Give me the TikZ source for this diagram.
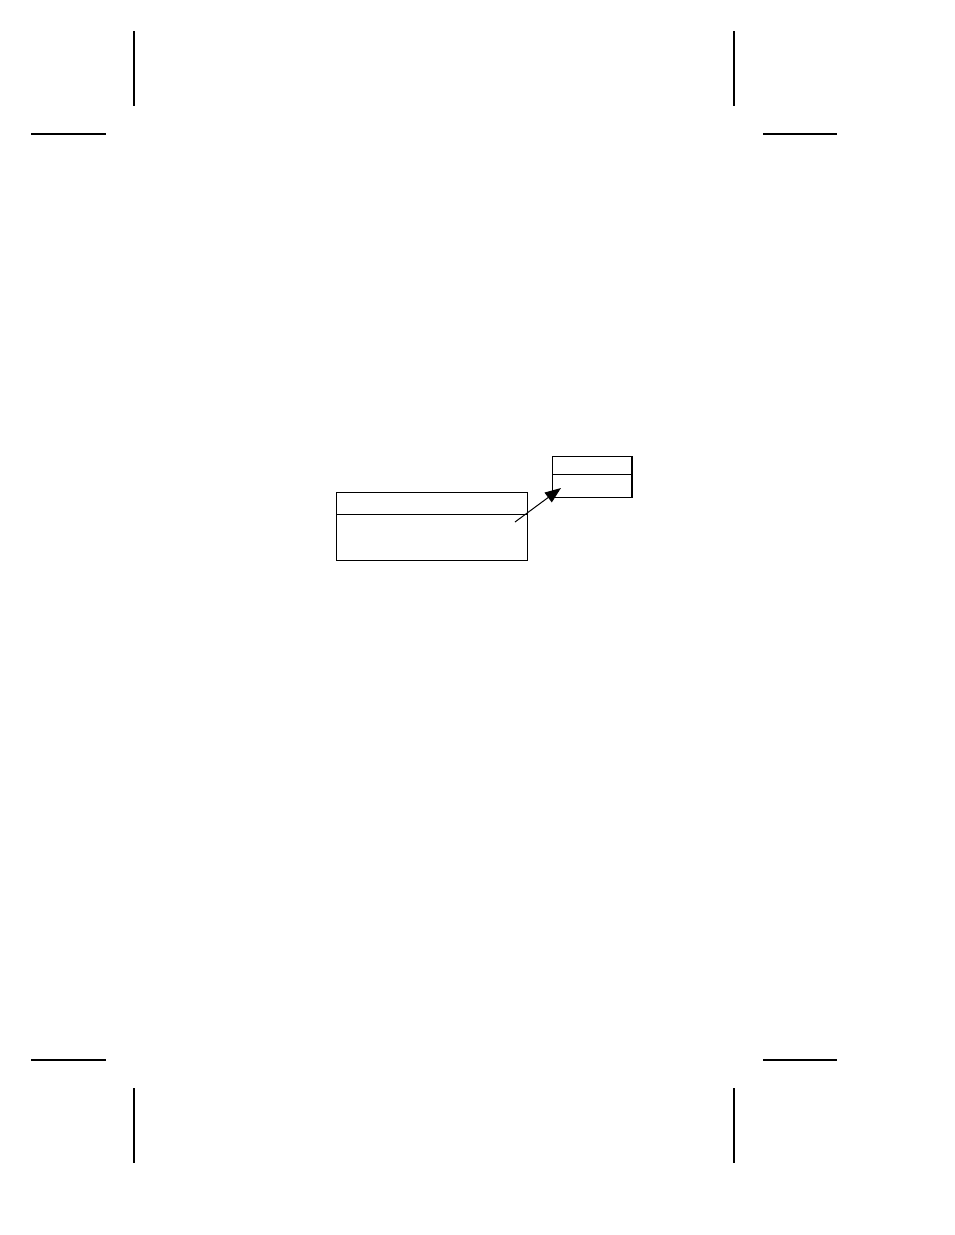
\documentclass[tikz,border=0pt]{standalone}
\usepackage{amsmath}
\usetikzlibrary{arrows.meta,positioning}

\begin{document}
\begin{tikzpicture}[x=1pt,y=-1pt, line width=1pt,
    every node/.style={rectangle,draw,inner sep=0pt,outer sep=0pt},
    mark line/.style={line width=1.3pt} ]
    \useasboundingbox (0,0) rectangle (954,1235);
    % crop marks
    \draw[mark line] (31,134) -- (106,134) (134,31) -- (134,106);
    \draw[mark line] (763,134) -- (837,134) (734,31) -- (734,106);
    \draw[mark line] (31,1060) -- (106,1060) (134,1088) -- (134,1163);
    \draw[mark line] (763,1060) -- (837,1060) (734,1088) -- (734,1163);
    % boxes
    \node[minimum width=191pt, minimum height=22pt] (bighead) at (432,503) {};
    \node[below=0pt of bighead, minimum width=191pt, minimum height=46pt] (bigbody) {};
    \node[minimum width=80pt, minimum height=18pt] (smallhead) at (592,465) {};
    \node[below=0pt of smallhead, minimum width=80pt, minimum height=23pt] (smallbody) {};
    \draw[line width=2pt] (smallhead.north east) -- (smallbody.south east);
    \coordinate (tail) at (515,522);
    \coordinate (tip) at (561,488);
    \draw[-{Triangle[length=16pt,width=12pt]}] (tail) -- (tip);
\end{tikzpicture}
\end{document}
